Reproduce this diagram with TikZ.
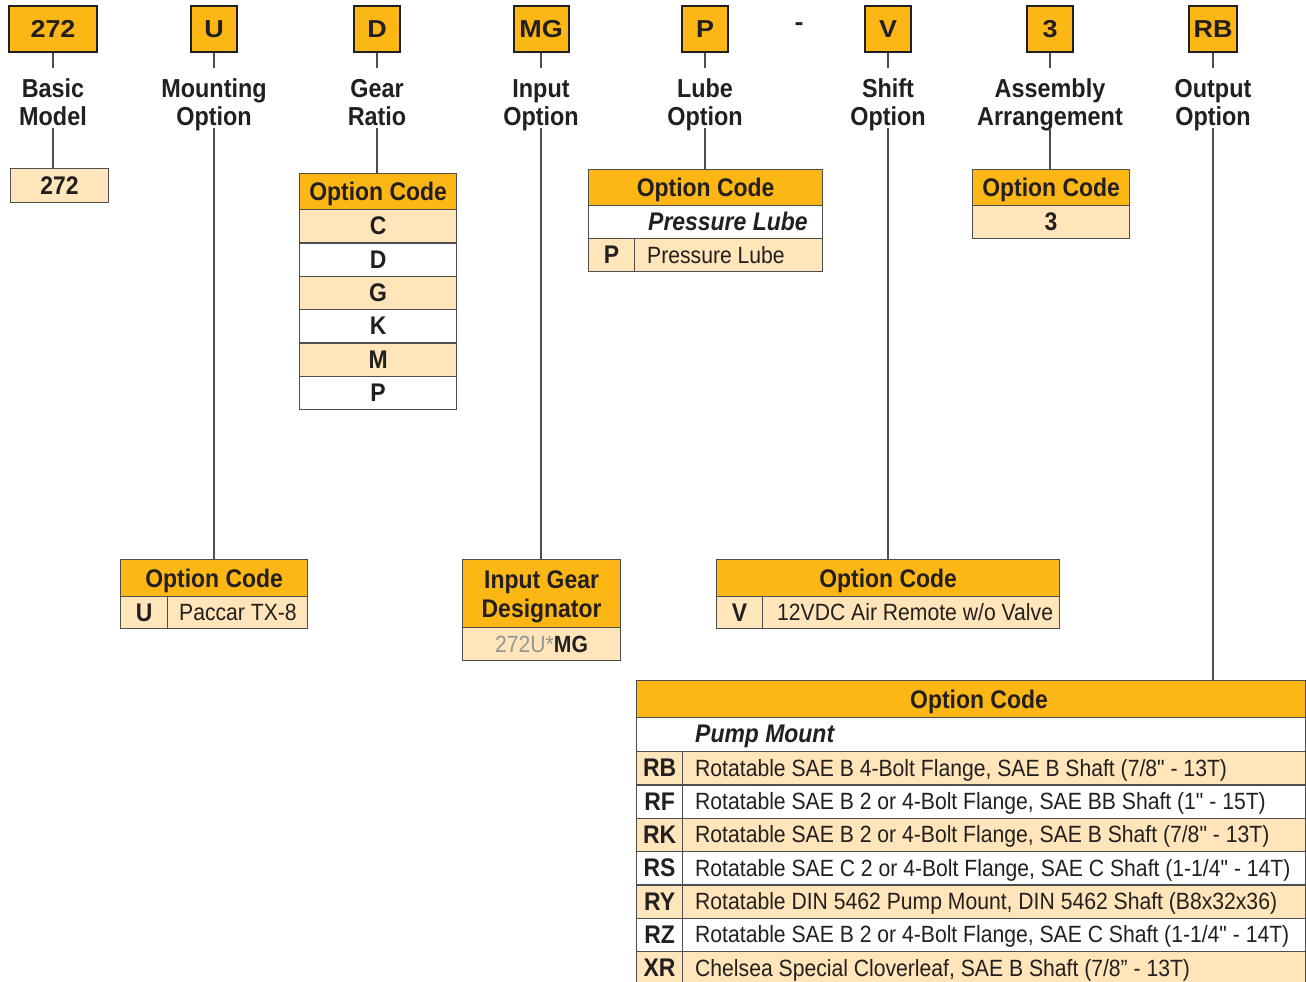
\documentclass[tikz,border=0pt]{standalone}
\usepackage{fontspec}
\setmainfont{Liberation Sans}[FakeStretch=0.9,Ligatures=TeXOff]
\newfontfamily\wideface{Liberation Sans}[FakeStretch=1.1]
\definecolor{hdr}{HTML}{FDB714}
\definecolor{lite}{HTML}{FFE5B9}
\definecolor{ink}{HTML}{231F20}
\definecolor{rulec}{HTML}{4D4D4D}
\definecolor{greyt}{HTML}{939598}
\newcommand\fTop{\fontsize{24.5}{25}\wideface\bfseries}
\newcommand\fLbl{\fontsize{26}{28}\selectfont\bfseries}
\newcommand\fBold{\fontsize{25.5}{28}\selectfont\bfseries}
\newcommand\fReg{\fontsize{23.5}{23.5}\selectfont}
\newcommand\fIt{\fontsize{25.5}{25.5}\selectfont\bfseries\itshape}
\tikzset{
 topbox/.style={draw=ink,line width=2pt,fill=hdr,inner sep=0pt,minimum height=46pt,font=\fTop,text=ink},
 lbl/.style={align=center,font=\fLbl,text=ink,inner sep=0pt},
 conn/.style={draw=rulec,line width=1.2pt},
 cellbase/.style={draw=rulec,line width=1.2pt,anchor=north west,inner sep=0pt,text=ink},
 cellbox/.style={cellbase,text height=17pt,text depth=0pt},
 hdrbox/.style={cellbase,fill=hdr,font=\fBold},
 hdrcell/.style={cellbox,fill=hdr,font=\fBold,text height=18pt},
 litecell/.style={cellbox,fill=lite,font=\fBold},
 whitecell/.style={cellbox,fill=white,font=\fBold},
 dtext/.style={anchor=base west,inner sep=0pt,font=\fReg,text=ink},
 itext/.style={anchor=base west,inner sep=0pt,font=\fIt,text=ink},
}
\begin{document}
\begin{tikzpicture}[x=1pt,y=-1pt]
\useasboundingbox (0,0) rectangle (1306,982);
\clip (0,0) rectangle (1306,982);
\fill[white] (0,0) rectangle (1306,982);

% ---- top code boxes
\node[topbox,minimum width=88pt] (b272) at (53,29) {272};
\node[topbox,minimum width=46pt] (bU) at (214,29) {U};
\node[topbox,minimum width=46pt] (bD) at (377,29) {D};
\node[topbox,minimum width=55pt] (bMG) at (541,29) {MG};
\node[topbox,minimum width=46pt] (bP) at (705,29) {P};
\node[font=\fTop,text=ink,anchor=base,inner sep=0pt] (dash) at (799,30.5) {-};
\node[topbox,minimum width=46pt] (bV) at (888,29) {V};
\node[topbox,minimum width=46pt] (b3) at (1050,29) {3};
\node[topbox,minimum width=48pt] (bRB) at (1213,29) {RB};

% ---- labels
\node[lbl] (lBasic) at (53,105) {\rule{0pt}{19pt}Basic\\Model\rule[-7pt]{0pt}{7pt}};
\node[lbl] (lMount) at (214,105) {\rule{0pt}{19pt}Mounting\\Option\rule[-7pt]{0pt}{7pt}};
\node[lbl] (lGear) at (377,105) {\rule{0pt}{19pt}Gear\\Ratio\rule[-7pt]{0pt}{7pt}};
\node[lbl] (lInput) at (541,105) {\rule{0pt}{19pt}Input\\Option\rule[-7pt]{0pt}{7pt}};
\node[lbl] (lLube) at (705,105) {\rule{0pt}{19pt}Lube\\Option\rule[-7pt]{0pt}{7pt}};
\node[lbl] (lShift) at (888,105) {\rule{0pt}{19pt}Shift\\Option\rule[-7pt]{0pt}{7pt}};
\node[lbl] (lAssy) at (1050,105) {\rule{0pt}{19pt}Assembly\\Arrangement\rule[-7pt]{0pt}{7pt}};
\node[lbl] (lOut) at (1213,105) {\rule{0pt}{19pt}Output\\Option\rule[-7pt]{0pt}{7pt}};

% ---- basic model
\node[litecell,minimum width=98pt,minimum height=34pt] (t272) at (10,168) {272};

% ---- gear ratio table
\node[hdrcell,minimum width=157pt,minimum height=36pt] (gH) at (299,173) {Option Code};
\node[litecell,minimum width=157pt,minimum height=33.33pt] (gC) at (299,209) {C};
\node[whitecell,minimum width=157pt,minimum height=33.33pt] (gD) at (299,242.33) {D};
\node[litecell,minimum width=157pt,minimum height=33.33pt] (gG) at (299,275.67) {G};
\node[whitecell,minimum width=157pt,minimum height=33.33pt] (gK) at (299,309) {K};
\node[litecell,minimum width=157pt,minimum height=33.33pt] (gM) at (299,342.33) {M};
\node[whitecell,minimum width=157pt,minimum height=33.33pt] (gP) at (299,375.67) {P};

% ---- lube table
\node[hdrcell,minimum width=234pt,minimum height=36pt] (lH) at (588,169) {Option Code};
\node[whitecell,minimum width=234pt,minimum height=33pt] (lW) at (588,205) {};
\node[itext] (lWt) at (648,230) {Pressure Lube};
\node[litecell,minimum width=46pt,minimum height=33pt] (lPc) at (588,238) {P};
\node[litecell,minimum width=188pt,minimum height=33pt] (lPd) at (634,238) {};
\node[dtext] (lPt) at (647,263) {Pressure Lube};

% ---- assembly table
\node[hdrcell,minimum width=157pt,minimum height=36pt] (aH) at (972,169) {Option Code};
\node[litecell,minimum width=157pt,minimum height=33pt] (aR) at (972,205) {3};

% ---- mounting table
\node[hdrcell,minimum width=187pt,minimum height=37pt] (mH) at (120,559) {Option Code};
\node[litecell,minimum width=47pt,minimum height=32pt] (mC) at (120,596) {U};
\node[litecell,minimum width=140pt,minimum height=32pt] (mD) at (167,596) {};
\node[dtext] (mT) at (179,620.5) {Paccar TX-8};

% ---- input gear table
\node[hdrbox,minimum width=158pt,minimum height=68pt,align=center,font=\fontsize{25.5}{29}\selectfont\bfseries] (iH) at (462,559) {\rule{0pt}{24pt}Input Gear\\Designator\rule[-5pt]{0pt}{5pt}};
\node[litecell,minimum width=158pt,minimum height=33pt,font=\fReg] (iR) at (462,627) {\textcolor{greyt}{272U*}\textbf{MG}};

% ---- shift table
\node[hdrcell,minimum width=343pt,minimum height=37pt] (sH) at (716,559) {Option Code};
\node[litecell,minimum width=46pt,minimum height=32pt] (sC) at (716,596) {V};
\node[litecell,minimum width=297pt,minimum height=32pt] (sD) at (762,596) {};
\node[dtext] (sT) at (777,620.5) {12VDC Air Remote w/o Valve};

% ---- output table
\node[hdrcell,minimum width=669pt,minimum height=37pt] (oH) at (636,680) {};
\node[font=\fBold,text=ink,anchor=base,inner sep=0pt] (oHt) at (979,708) {Option Code};
\node[whitecell,minimum width=669pt,minimum height=34pt] (oW) at (636,717) {};
\node[itext] (oWt) at (695,742.5) {Pump Mount};

\node[litecell,minimum width=46pt,minimum height=33.33pt] (oC1) at (636,751) {RB};
\node[litecell,minimum width=623pt,minimum height=33.33pt] (oD1) at (682,751) {};
\node[dtext] (oT1) at (695,776.2) {Rotatable SAE B 4-Bolt Flange, SAE B Shaft (7/8" - 13T)};

\node[whitecell,minimum width=46pt,minimum height=33.33pt] (oC2) at (636,784.33) {RF};
\node[whitecell,minimum width=623pt,minimum height=33.33pt] (oD2) at (682,784.33) {};
\node[dtext] (oT2) at (695,809.5) {Rotatable SAE B 2 or 4-Bolt Flange, SAE BB Shaft (1" - 15T)};

\node[litecell,minimum width=46pt,minimum height=33.33pt] (oC3) at (636,817.67) {RK};
\node[litecell,minimum width=623pt,minimum height=33.33pt] (oD3) at (682,817.67) {};
\node[dtext] (oT3) at (695,842.9) {Rotatable SAE B 2 or 4-Bolt Flange, SAE B Shaft (7/8" - 13T)};

\node[whitecell,minimum width=46pt,minimum height=33.33pt] (oC4) at (636,851) {RS};
\node[whitecell,minimum width=623pt,minimum height=33.33pt] (oD4) at (682,851) {};
\node[dtext] (oT4) at (695,876.2) {Rotatable SAE C 2 or 4-Bolt Flange, SAE C Shaft (1-1/4" - 14T)};

\node[litecell,minimum width=46pt,minimum height=33.33pt] (oC5) at (636,884.33) {RY};
\node[litecell,minimum width=623pt,minimum height=33.33pt] (oD5) at (682,884.33) {};
\node[dtext] (oT5) at (695,909.5) {Rotatable DIN 5462 Pump Mount, DIN 5462 Shaft (B8x32x36)};

\node[whitecell,minimum width=46pt,minimum height=33.33pt] (oC6) at (636,917.67) {RZ};
\node[whitecell,minimum width=623pt,minimum height=33.33pt] (oD6) at (682,917.67) {};
\node[dtext] (oT6) at (695,942.9) {Rotatable SAE B 2 or 4-Bolt Flange, SAE C Shaft (1-1/4" - 14T)};

\node[litecell,minimum width=46pt,minimum height=33.33pt] (oC7) at (636,951) {XR};
\node[litecell,minimum width=623pt,minimum height=33.33pt] (oD7) at (682,951) {};
\node[dtext] (oT7) at (695,976.2) {Chelsea Special Cloverleaf, SAE B Shaft (7/8” - 13T)};

% ---- connectors
\foreach \b/\l in {b272/lBasic,bU/lMount,bD/lGear,bMG/lInput,bP/lLube,bV/lShift,b3/lAssy,bRB/lOut}
  \draw[conn] (\b.south) -- ([yshift=10pt]\l.north);
\draw[conn] ([yshift=4pt]lBasic.south) -- (t272.north -| lBasic.south);
\draw[conn] ([yshift=4pt]lMount.south) -- (mH.north -| lMount.south);
\draw[conn] ([yshift=4pt]lGear.south) -- (gH.north -| lGear.south);
\draw[conn] ([yshift=4pt]lInput.south) -- (iH.north -| lInput.south);
\draw[conn] ([yshift=4pt]lLube.south) -- (lH.north -| lLube.south);
\draw[conn] ([yshift=4pt]lShift.south) -- (sH.north -| lShift.south);
\draw[conn] ([yshift=4pt]lAssy.south) -- (aH.north -| lAssy.south);
\draw[conn] ([yshift=4pt]lOut.south) -- (oH.north -| lOut.south);
\end{tikzpicture}
\end{document}
